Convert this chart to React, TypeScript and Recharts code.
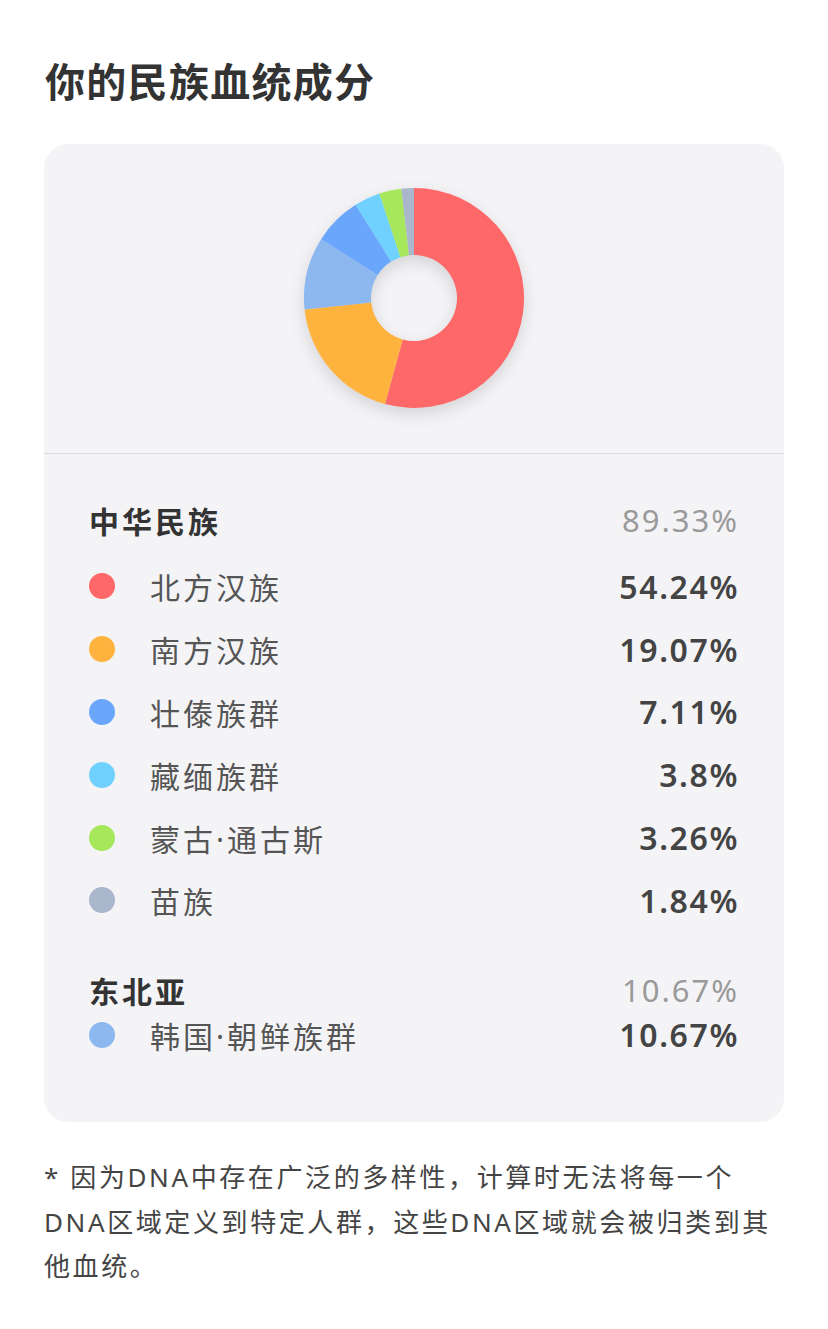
import { Cell, Pie, PieChart } from "recharts";

// slices, in the order the donut draws them (clockwise from 12 o'clock)
const names = ["北方汉族", "南方汉族", "韩国·朝鲜族群", "壮傣族群", "藏缅族群", "蒙古·通古斯", "苗族"];
const shares = [54.24, 19.07, 10.67, 7.11, 3.8, 3.26, 1.84];
const colors = ["#ff6868", "#ffb33f", "#8db7ef", "#6aa7fc", "#70d1fe", "#a6e75c", "#a9b6cb"];

// groups in the list below the chart
const groupNames = ["中华民族", "东北亚"];
const groupTotals = [89.33, 10.67];
const groupMembers = [
  ["北方汉族", "南方汉族", "壮傣族群", "藏缅族群", "蒙古·通古斯", "苗族"],
  ["韩国·朝鲜族群"],
];

const footLines = [
  "* 因为DNA中存在广泛的多样性，计算时无法将每一个",
  "DNA区域定义到特定人群，这些DNA区域就会被归类到其",
  "他血统。",
];

const font = '"Noto Sans", "Noto Sans CJK SC", sans-serif';

const pieData = names.map((name, i) => ({ name, value: shares[i] }));

function Row({ name, h }: { name: string; h: number }) {
  const i = names.indexOf(name);
  return (
    <div style={{ display: "flex", alignItems: "center", height: h }}>
      <span
        style={{
          width: 26,
          height: 26,
          borderRadius: 13,
          background: colors[i],
          marginLeft: 45,
          marginRight: 35,
          flex: "none",
        }}
      />
      <span style={{ fontSize: 30, color: "#555", letterSpacing: 3, flex: 1 }}>{name}</span>
      <span style={{ fontSize: 32, color: "#444", fontWeight: 600, letterSpacing: 1.6, marginRight: 45 }}>
        {shares[i]}%
      </span>
    </div>
  );
}

function GroupHead({ g, h }: { g: number; h: number }) {
  return (
    <div style={{ display: "flex", alignItems: "center", height: h }}>
      <span style={{ fontSize: 30, fontWeight: 700, color: "#333", letterSpacing: 3, marginLeft: 45, flex: 1 }}>
        {groupNames[g]}
      </span>
      <span style={{ fontSize: 31, color: "#9a9a9a", letterSpacing: 2, marginRight: 45 }}>{groupTotals[g]}%</span>
    </div>
  );
}

export default function App() {
  return (
    <div
      style={{
        position: "absolute",
        left: 0,
        top: 0,
        width: 828,
        height: 1329,
        background: "#fff",
        fontFamily: font,
        overflow: "hidden",
      }}
    >
      <div
        style={{
          position: "absolute",
          left: 45,
          top: 56,
          fontSize: 40,
          lineHeight: "52px",
          fontWeight: 700,
          color: "#333",
          letterSpacing: 1.3,
        }}
      >
        你的民族血统成分
      </div>

      <div
        style={{
          position: "absolute",
          left: 44,
          top: 144,
          width: 740,
          height: 978,
          borderRadius: 24,
          background: "#f4f4f7",
        }}
      >
        <div
          style={{
            position: "absolute",
            left: 240,
            top: 24,
            filter: "drop-shadow(0 6px 8px rgba(0,0,0,0.13))",
          }}
        >
          <PieChart width={260} height={260} margin={{ top: 0, right: 0, bottom: 0, left: 0 }}>
            <Pie
              data={pieData}
              dataKey="value"
              nameKey="name"
              cx={130}
              cy={130}
              outerRadius={110}
              innerRadius={43}
              startAngle={90}
              endAngle={-270}
              stroke="none"
              isAnimationActive={false}
            >
              {pieData.map((d, i) => (
                <Cell key={d.name} fill={colors[i]} />
              ))}
            </Pie>
          </PieChart>
        </div>

        <div style={{ position: "absolute", left: 0, top: 309, width: 740, height: 1, background: "#dcdce0" }} />

        <div style={{ position: "absolute", left: 0, top: 340, width: 740 }}>
          <GroupHead g={0} h={71} />
          {groupMembers[0].map((n) => (
            <Row key={n} name={n} h={62.8} />
          ))}
          <div style={{ height: 37 }} />
          <GroupHead g={1} h={42} />
          {groupMembers[1].map((n) => (
            <Row key={n} name={n} h={48} />
          ))}
        </div>
      </div>

      <div
        style={{
          position: "absolute",
          left: 44,
          top: 1155,
          fontSize: 26,
          lineHeight: "44.5px",
          color: "#444",
          letterSpacing: 2.6,
          whiteSpace: "nowrap",
        }}
      >
        {footLines.map((l) => (
          <div key={l}>{l}</div>
        ))}
      </div>
    </div>
  );
}
